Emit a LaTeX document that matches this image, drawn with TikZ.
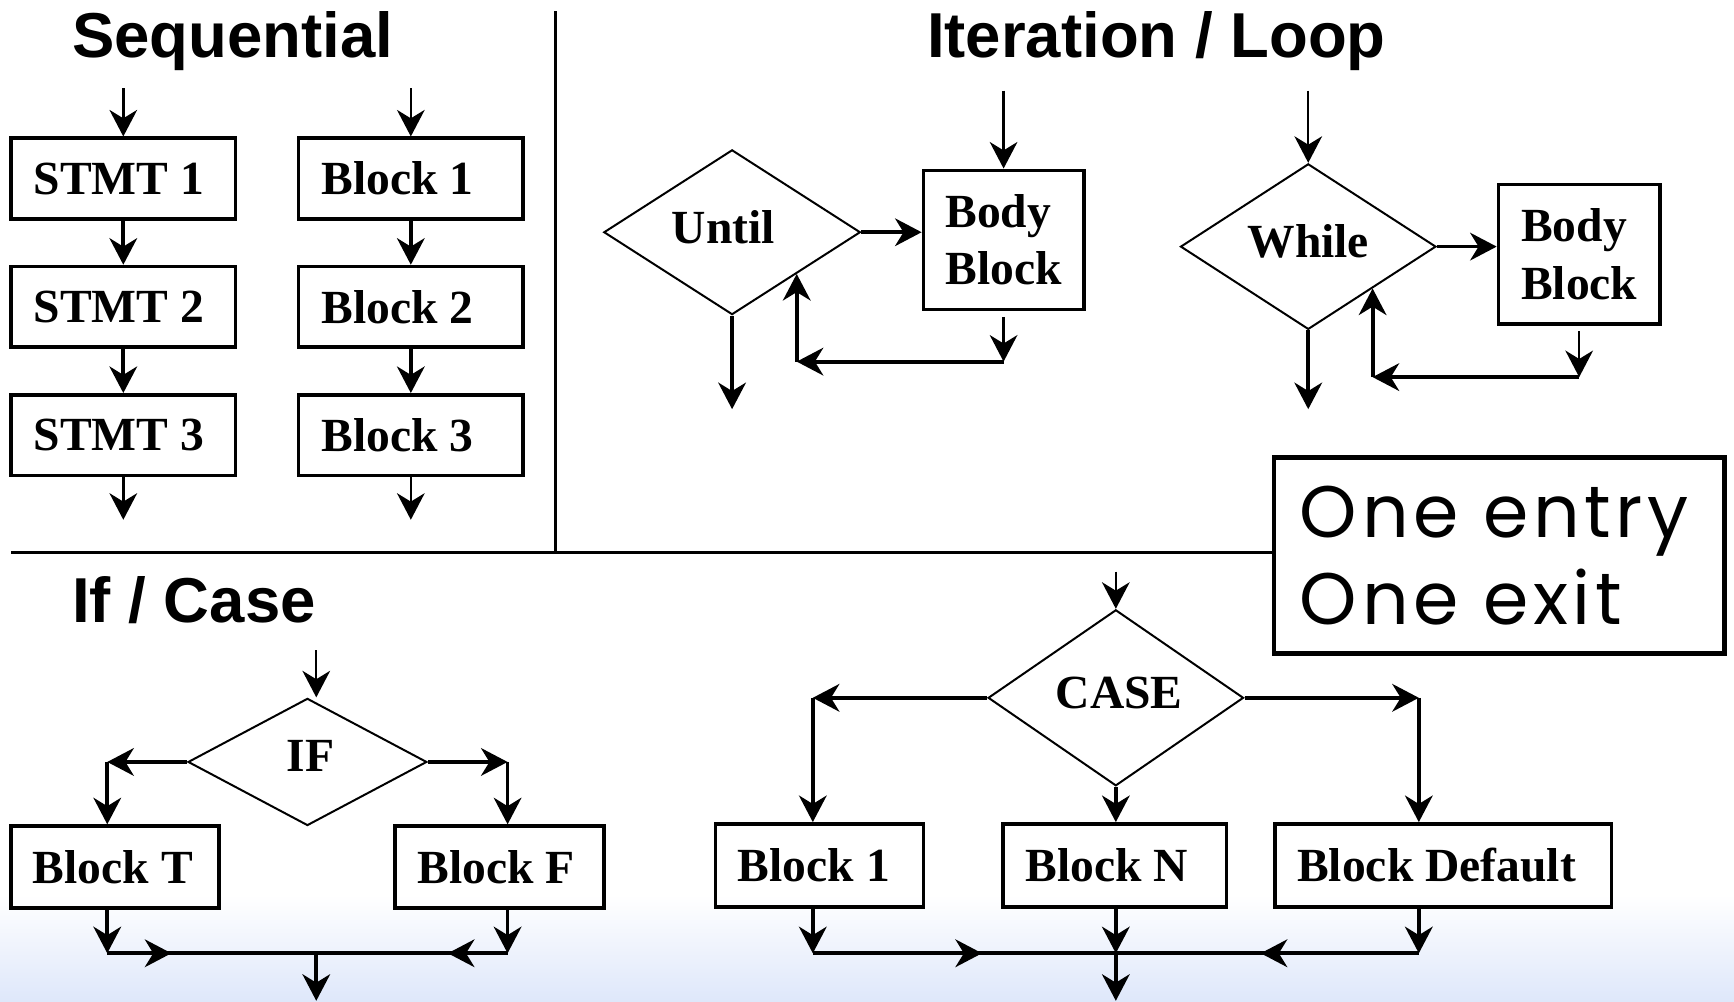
\documentclass[tikz,border=0pt]{standalone}
\usepackage{fontspec}
\setmainfont{Liberation Serif}
\newfontfamily\titlefont{Liberation Sans}
\newfontfamily\oefont{Poppins}[LetterSpace=6.5]
\usetikzlibrary{arrows.meta,shapes.geometric,calc}
\definecolor{bgblue}{RGB}{222,231,250}
\begin{document}
\begin{tikzpicture}[x=0.5pt,y=-0.5pt,
  box/.style={draw, line width=1.6pt, inner sep=0pt, align=center,
    font=\bfseries\fontsize{21.5}{26}\selectfont},
  dia/.style={draw, diamond, line width=0.9pt, inner sep=0pt, text depth=5pt,
    font=\bfseries\fontsize{21.5}{26}\selectfont},
  title/.style={anchor=base west, inner sep=0pt,
    font=\titlefont\bfseries\fontsize{28.7}{32}\selectfont},
  tip/.style={-{Stealth[length=12pt,width=12.5pt,inset=3.8pt]}},
  tarr/.style={tip, line width=1.1pt},
  arr/.style={tip, line width=1.7pt},
  thin/.style={line width=1.1pt},
  thick/.style={line width=1.7pt},
  divider/.style={line width=1.4pt}]
\useasboundingbox (0,0) rectangle (1568,906);
\fill[white] (0,0) rectangle (1568,906);
\shade[top color=white, bottom color=bgblue] (0,809) rectangle (1568,906);

% titles
\node[title] (tseq) at (65,52) {Sequential};
\node[title] (tit) at (838,52) {Iteration / Loop};
\node[title] (tif) at (65,563) {If / Case};

% One entry box
\node[draw, line width=2.2pt, minimum width=203.5pt, minimum height=88.5pt,
  text width=180pt, align=left, inner xsep=11.5pt, inner ysep=0pt,
  font=\oefont\fontsize{33}{39.5}\selectfont] (oe) at (1355.5,502.5) {One entry\\One exit};

% dividers
\coordinate (hl) at (10,500);
\coordinate (vt) at (502,10);
\draw[divider] (vt) -- (vt |- hl);
\draw[divider] (hl) -- (hl -| oe.west);

% ---------------- Sequential
\foreach \n/\y in {1/161.5,2/277.5,3/393.5}{
  \node[box, minimum width=101.5pt, minimum height=36.5pt] (s\n) at (111.5,\y) {STMT \n\kern4pt};
  \node[box, minimum width=101.5pt, minimum height=36.5pt] (b\n) at (371.5,\y) {Block \n\kern12pt};
}
\coordinate (s0) at (111.5,80);
\coordinate (b0) at (371.5,80);
\coordinate (s4) at (111.5,470);
\coordinate (b4) at (371.5,470);
\draw[tarr] (s0) -- (s1.north);
\draw[tarr] (b0) -- (b1.north);
\draw[arr] (s1) -- (s2);
\draw[arr] (s2) -- (s3);
\draw[arr] (b1) -- (b2);
\draw[arr] (b2) -- (b3);
\draw[tarr] (s3.south) -- (s4);
\draw[tarr] (b3.south) -- (b4);

% ---------------- Until loop
\node[dia, minimum width=116pt, minimum height=72.5pt] (until) at (662,210) {Until\kern8pt};
\node[box, minimum width=72.5pt, minimum height=63pt, align=left] (bb1) at (907.5,217) {Body\\Block};
\coordinate (u0) at (907.5,82);
\coordinate (uout) at (662,370);
\coordinate (ue) at ($(until.east)!0.5!(until.south)$);
\coordinate (uc1) at (907.5,327);
\coordinate (uc2) at (ue |- uc1);
\draw[tarr] (u0) -- (bb1.north);
\draw[arr] (until.east) -- (until.east -| bb1.west);
\draw[tarr] ([yshift=-2.5pt]bb1.south) -- (uc1);
\draw[arr] (uc1) -- (uc2);
\draw[arr] (uc2) -- (ue);
\draw[arr] (until.south) -- (uout);

% ---------------- While loop
\node[dia, minimum width=115.5pt, minimum height=72pt] (while) at (1183,223) {While};
\node[box, minimum width=73pt, minimum height=63pt, align=left] (bb2) at (1428,230) {Body\\Block};
\coordinate (w0) at (1183,82);
\coordinate (wout) at (1183,370);
\coordinate (we) at ($(while.east)!0.5!(while.south)$);
\coordinate (wc1) at (1428,341);
\coordinate (wc2) at (we |- wc1);
\draw[tarr] (w0) -- (while.north);
\draw[arr] (while.east) -- (while.east -| bb2.west);
\draw[tarr] ([yshift=-2.5pt]bb2.south) -- (wc1);
\draw[arr] (wc1) -- (wc2);
\draw[arr] (wc2) -- (we);
\draw[arr] (while.south) -- (wout);

% ---------------- IF
\node[dia, minimum width=108pt, minimum height=57.5pt] (if) at (278,689) {\kern3pt IF};
\node[box, minimum width=94pt, minimum height=37pt] (bt) at (104,784) {Block T\kern2pt};
\node[box, minimum width=94.5pt, minimum height=37pt] (bf) at (451.5,784) {Block F\kern3pt};
\coordinate (if0) at (286,588);
\coordinate (il) at (97,689);
\coordinate (ir) at (459,689);
\coordinate (ibl) at (97,862);
\coordinate (ibr) at (459,862);
\coordinate (ibm) at (286,862);
\coordinate (iout) at (286,905);
\draw[tarr] (if0) -- (if0 |- if.north);
\draw[arr] (if.west) -- (il);
\draw[arr] (il) -- (il |- bt.north);
\draw[arr] (if.east) -- (ir);
\draw[arr] (ir) -- (ir |- bf.north);
\draw[arr] (bt.south -| ibl) -- (ibl);
\draw[arr] (bf.south -| ibr) -- (ibr);
\draw[thick] (ibl) -- (ibr);
\draw[arr] (ibl) -- ++(58,0);
\draw[arr] (ibr) -- ++(-54,0);
\draw[arr] (ibm) -- (iout);

% ---------------- CASE
\node[dia, minimum width=115.5pt, minimum height=72pt] (case) at (1009,631) {\kern3pt CASE};
\node[box, minimum width=94pt, minimum height=37.5pt] (cb1) at (741,782.5) {Block 1\kern5pt};
\node[box, minimum width=101pt, minimum height=37.5pt] (cbn) at (1008,782.5) {Block N\kern7pt};
\node[box, minimum width=152pt, minimum height=37.5pt] (cbd) at (1305,782.5) {Block Default\kern6pt};
\coordinate (c0) at (1009,517);
\coordinate (cl) at (735,631);
\coordinate (cr) at (1283,631);
\coordinate (cbl) at (735,862);
\coordinate (cbm) at (1009,862);
\coordinate (cbr) at (1283,862);
\coordinate (cout) at (1009,905);
\draw[tarr] (c0) -- (case.north);
\draw[arr] (case.west) -- (cl);
\draw[arr] (cl) -- (cl |- cb1.north);
\draw[arr] (case.east) -- (cr);
\draw[arr] (cr) -- (cr |- cbd.north);
\draw[arr] (case.south) -- (cbn.north -| case.south);
\draw[arr] (cb1.south -| cbl) -- (cbl);
\draw[arr] (cbn.south -| cbm) -- (cbm);
\draw[arr] (cbd.south -| cbr) -- (cbr);
\draw[thick] (cbl) -- (cbr);
\draw[arr] (cbl) -- ++(153,0);
\draw[arr] (cbr) -- ++(-143,0);
\draw[arr] (cbm) -- (cout);
\end{tikzpicture}
\end{document}
